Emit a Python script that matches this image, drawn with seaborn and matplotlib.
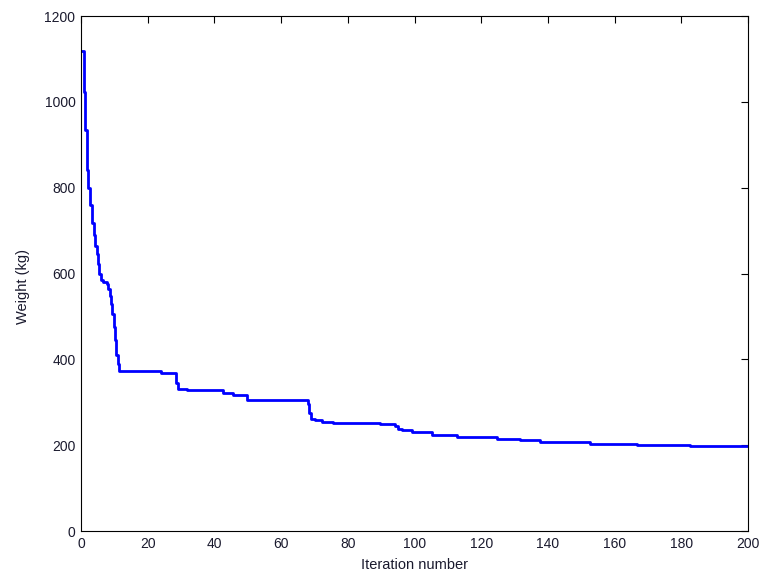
import matplotlib
matplotlib.use("Agg")
import matplotlib.pyplot as plt
import seaborn as sns
import pandas as pd

# Best-so-far weight vs iteration (change points of the convergence curve)
iterations = [0, 0.8, 1.3, 1.7, 2.2, 2.7, 3.2, 3.9, 4.3, 4.7, 5.1, 5.5, 5.9, 6.6, 7.7,
              8.2, 8.6, 9.0, 9.4, 9.8, 10.2, 10.6, 11.0, 11.4, 23.9, 28.5, 29.0, 31.7,
              42.7, 45.7, 49.7, 68.0, 68.4, 69.0, 70.2, 72.2, 75.7, 79.7, 89.7, 94.2,
              95.0, 96.2, 99.2, 105.2, 112.8, 122.6, 124.6, 131.6, 137.6, 152.6, 166.6,
              182.6, 200]
weights = [1118, 1024, 934, 841, 800, 760, 718, 690, 665, 645, 622, 600, 585, 580, 575,
           565, 548, 530, 505, 475, 445, 410, 390, 372, 369, 345, 332, 329,
           321, 318, 306, 295, 275, 262, 258, 255, 252, 251, 249, 245,
           237, 236, 231, 224, 220, 218, 214, 211, 207, 203, 201,
           198, 197]

x_ticks = [0, 20, 40, 60, 80, 100, 120, 140, 160, 180, 200]
y_ticks = [0, 200, 400, 600, 800, 1000, 1200]

df = pd.DataFrame({"Iteration number": iterations, "Weight (kg)": weights})

sns.set_style("white")
plt.rcParams["font.family"] = ["Liberation Sans", "DejaVu Sans"]

fig = plt.figure(figsize=(7.61, 5.74), dpi=100)
ax = fig.add_axes([0.1064, 0.0749, 0.8766, 0.8972])

sns.lineplot(data=df, x="Iteration number", y="Weight (kg)", ax=ax,
             color="#0000ff", linewidth=2.0, drawstyle="steps-post",
             estimator=None, sort=False)

ax.set_xlim(0, 200)
ax.set_ylim(0, 1200)
ax.set_xticks(x_ticks)
ax.set_yticks(y_ticks)
ax.tick_params(direction="in", length=5, width=0.8, top=True, right=True,
               labelsize=10, colors="#000000", labelcolor="#1a1a2e", pad=4)
for s in ax.spines.values():
    s.set_visible(True)
    s.set_color("#000000")
    s.set_linewidth(0.8)
ax.set_xlabel("Iteration number", fontsize=10.5, color="#1a1a2e")
ax.set_ylabel("Weight (kg)", fontsize=10.5, color="#1a1a2e")
ax.xaxis.set_label_coords(0.5, -0.053)
ax.yaxis.set_label_coords(-0.077, 0.475)
ax.grid(False)

fig.savefig("out.png", dpi=100, facecolor="white")
